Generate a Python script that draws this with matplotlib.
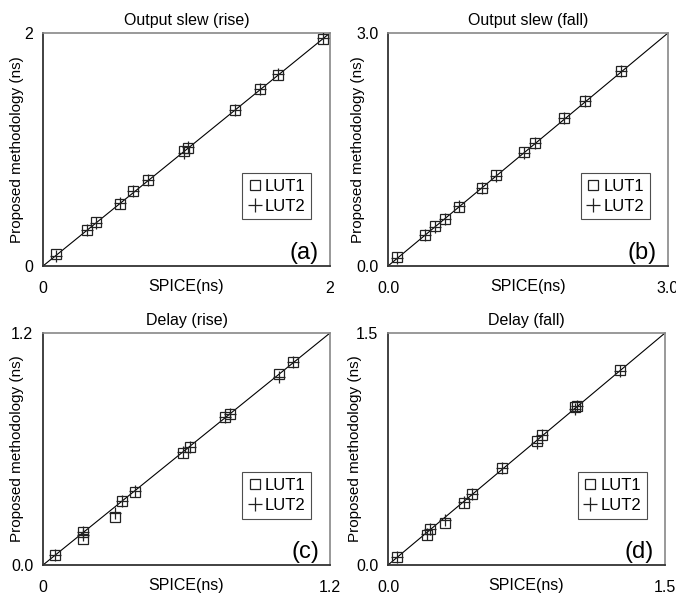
import matplotlib
matplotlib.use("Agg")
import matplotlib.pyplot as plt
from matplotlib.lines import Line2D

plt.rcParams['font.family'] = ['Liberation Sans', 'DejaVu Sans']

# ---------------- data ----------------
titles = ["Output slew (rise)", "Output slew (fall)", "Delay (rise)", "Delay (fall)"]
panel_tags = ["(a)", "(b)", "(c)", "(d)"]
axis_max = [2.0, 3.0, 1.2, 1.5]
tick_labels = [["0", "2"], ["0.0", "3.0"], ["0", "1.2"], ["0.0", "1.5"]]
ytick_labels = [["0", "2"], ["0.0", "3.0"], ["0.0", "1.2"], ["0.0", "1.5"]]

# (a) Output slew (rise)
a_spice_lut1 = [0.09, 0.31, 0.37, 0.54, 0.63, 0.73, 0.98, 1.01, 1.34, 1.51, 1.64, 1.95]
a_prop_lut1  = [0.10, 0.31, 0.38, 0.53, 0.64, 0.74, 0.99, 1.01, 1.34, 1.52, 1.64, 1.95]
a_spice_lut2 = [0.09, 0.31, 0.37, 0.54, 0.63, 0.73, 0.98, 1.01, 1.34, 1.51, 1.64, 1.95]
a_prop_lut2  = [0.09, 0.31, 0.37, 0.54, 0.64, 0.74, 0.97, 1.02, 1.34, 1.52, 1.65, 1.96]

# (b) Output slew (fall)
b_spice_lut1 = [0.10, 0.40, 0.50, 0.61, 0.76, 1.01, 1.16, 1.46, 1.57, 1.89, 2.11, 2.50]
b_prop_lut1  = [0.11, 0.40, 0.51, 0.61, 0.76, 1.01, 1.17, 1.47, 1.58, 1.90, 2.12, 2.51]
b_spice_lut2 = [0.10, 0.40, 0.50, 0.61, 0.76, 1.01, 1.16, 1.46, 1.57, 1.89, 2.11, 2.50]
b_prop_lut2  = [0.10, 0.40, 0.50, 0.61, 0.77, 1.01, 1.16, 1.46, 1.58, 1.90, 2.12, 2.51]

# (c) Delay (rise)
c_spice_lut1 = [0.05, 0.166, 0.166, 0.30, 0.33, 0.385, 0.585, 0.615, 0.763, 0.78, 0.987, 1.047]
c_prop_lut1  = [0.05, 0.172, 0.133, 0.25, 0.33, 0.380, 0.580, 0.610, 0.765, 0.78, 0.990, 1.050]
c_spice_lut2 = [0.05, 0.166, 0.166, 0.30, 0.33, 0.385, 0.585, 0.615, 0.763, 0.78, 0.987, 1.047]
c_prop_lut2  = [0.05, 0.170, 0.155, 0.27, 0.33, 0.385, 0.585, 0.610, 0.763, 0.78, 0.975, 1.050]

# (d) Delay (fall)
d_spice_lut1 = [0.05, 0.21, 0.23, 0.31, 0.41, 0.455, 0.62, 0.805, 0.835, 1.010, 1.025, 1.255]
d_prop_lut1  = [0.05, 0.195, 0.23, 0.27, 0.40, 0.460, 0.63, 0.800, 0.840, 1.020, 1.030, 1.260]
d_spice_lut2 = [0.05, 0.21, 0.23, 0.31, 0.41, 0.455, 0.62, 0.805, 0.835, 1.015, 1.025, 1.255]
d_prop_lut2  = [0.05, 0.20, 0.23, 0.29, 0.405, 0.460, 0.625, 0.790, 0.840, 1.010, 1.030, 1.255]

series = [
    (a_spice_lut1, a_prop_lut1, a_spice_lut2, a_prop_lut2),
    (b_spice_lut1, b_prop_lut1, b_spice_lut2, b_prop_lut2),
    (c_spice_lut1, c_prop_lut1, c_spice_lut2, c_prop_lut2),
    (d_spice_lut1, d_prop_lut1, d_spice_lut2, d_prop_lut2),
]

# ---------------- layout ----------------
W, H = 676, 598
fig = plt.figure(figsize=(W / 100, H / 100), dpi=100)
# axes boxes in pixels: left, top, right, bottom
boxes = [(43, 33, 330, 266), (388, 33, 668, 266), (43, 333, 330, 565), (388, 333, 665, 565)]
ylabel_x_px = [17.5, 357.5, 17.5, 355]

for i, (l, t, r, b) in enumerate(boxes):
    ax = fig.add_axes([l / W, 1 - b / H, (r - l) / W, (b - t) / H])
    m = axis_max[i]
    xs1, ys1, xs2, ys2 = series[i]
    ax.plot([0, m], [0, m], color='black', lw=0.8, zorder=1)
    ax.plot(xs1, ys1, linestyle='none', marker='s', markersize=7, markerfacecolor='none',
            markeredgecolor='#222222', markeredgewidth=0.9, zorder=2)
    ax.plot(xs2, ys2, linestyle='none', marker='+', markersize=8,
            markeredgecolor='#222222', markeredgewidth=0.9, zorder=3)
    ax.set_xlim(0, m)
    ax.set_ylim(0, m)
    ax.set_xticks([0, m])
    ax.set_xticklabels(tick_labels[i])
    ax.set_yticks([0, m])
    ax.set_yticklabels(ytick_labels[i])
    ax.tick_params(axis='both', length=0, labelsize=11.5)
    ax.tick_params(axis='x', pad=11)
    ax.tick_params(axis='y', pad=7)
    for s in ['left', 'bottom']:
        ax.spines[s].set_color('#333333')
        ax.spines[s].set_linewidth(1.3)
    for s in ['top', 'right']:
        ax.spines[s].set_color('#888888')
        ax.spines[s].set_linewidth(1.2)
    ax.set_title(titles[i], fontsize=11.5, pad=6)
    ax.text((ylabel_x_px[i] - l) / (r - l), 0.5, "Proposed methodology (ns)",
            transform=ax.transAxes, rotation=90, ha='center', va='center', fontsize=11)
    ax.annotate("SPICE(ns)", xy=(0.5, 0), xycoords='axes fraction', xytext=(0, -15),
                textcoords='offset points', ha='center', va='center', fontsize=11.5)
    ax.annotate(panel_tags[i], xy=(1, 0), xycoords='axes fraction', xytext=(-8, 5),
                textcoords='offset points', ha='right', va='baseline', fontsize=17)
    handles = [
        Line2D([], [], linestyle='none', marker='s', markersize=7.5, markerfacecolor='none',
               markeredgecolor='#222222', markeredgewidth=0.9),
        Line2D([], [], linestyle='none', marker='+', markersize=10,
               markeredgecolor='#222222', markeredgewidth=0.9),
    ]
    leg = ax.legend(handles, ["LUT1", "LUT2"], loc='lower right', bbox_to_anchor=(0.935, 0.2),
                    fontsize=12, frameon=True, fancybox=False, borderpad=0.35,
                    handlelength=0.8, handletextpad=0.2, labelspacing=0.3, borderaxespad=0)
    leg.get_frame().set_edgecolor('#222222')
    leg.get_frame().set_linewidth(0.8)

fig.savefig("out.png", dpi=100)
